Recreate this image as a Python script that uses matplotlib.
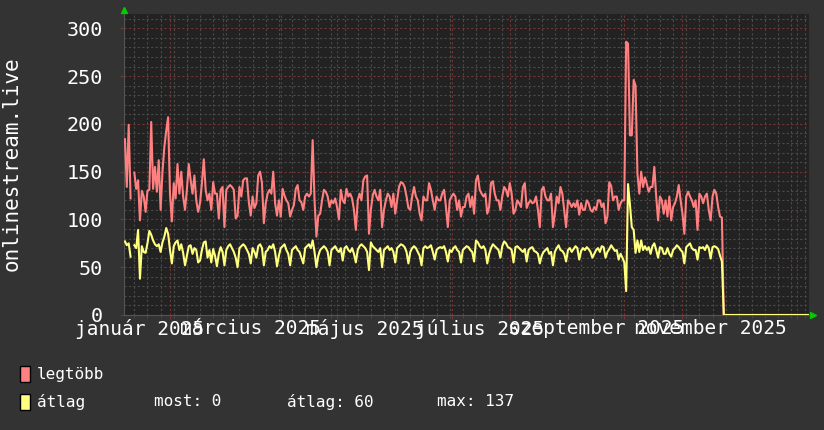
import numpy as np
import pandas as pd
import matplotlib
matplotlib.use("Agg")
import matplotlib.pyplot as plt
import matplotlib.dates as mdates
from matplotlib.ticker import MultipleLocator
from matplotlib.patches import Rectangle

nan = np.nan

# daily values, first day 2025-01-08
start_day = "2025-01-08"

# legtöbb (max) per month
max_jan = [184, 134, 199, 122, nan, 149, 132, 141, 99, 130, 124, 108, 130, 131, 202, 132, 155, 129, 162, 110, 150, 176, 193, 207]
max_feb = [127, 98, 138, 122, 158, 127, 150, 124, 110, 131, 158, 141, 127, 146, 120, 108, 117, 138, 163, 131, 120, 127, 110, 139, 127, 127, 101, 131]
max_mar = [134, 92, 131, 134, 136, 134, 131, 101, 104, 134, 124, 141, 143, 143, 118, 104, 124, 112, 117, 146, 150, 138, 96, 117, 127, 131, 127, 150, 117, 104, 120]
max_apr = [103, 132, 125, 120, 117, 103, 110, 115, 132, 136, 120, 118, 110, 124, 127, 124, 127, 183, 120, 82, 104, 106, 120, 131, 129, 124, 113, 120, 117, 122]
max_may = [113, 100, 131, 120, 117, 132, 124, 127, 122, 110, 89, 120, 127, 120, 141, 145, 146, 85, 110, 125, 131, 124, 120, 131, 92, 110, 120, 127, 124, 113, 127]
max_jun = [106, 120, 134, 139, 138, 134, 124, 112, 110, 124, 134, 124, 120, 106, 99, 124, 120, 120, 138, 131, 120, 110, 124, 120, 120, 127, 131, 113, 92, 120]
max_jul = [124, 127, 124, 110, 120, 103, 113, 113, 124, 127, 113, 124, 106, 141, 146, 131, 127, 124, 127, 106, 113, 138, 140, 127, 120, 120, 110, 124, 134, 131, 124]
max_aug = [138, 127, 106, 110, 120, 117, 113, 134, 138, 112, 117, 120, 117, 118, 124, 110, 92, 131, 134, 124, 120, 120, 127, 92, 106, 124, 117, 134, 127, 110, 92]
max_sep = [120, 117, 113, 117, 113, 120, 105, 117, 110, 110, 120, 117, 110, 108, 113, 110, 120, 120, 113, 117, 96, 103, 139, 135, 120, 124, 124, 110, 117, 120]
max_oct = [120, 286, 284, 188, 188, 246, 240, 148, 127, 150, 134, 144, 137, 129, 134, 134, 155, 124, 99, 124, 120, 106, 120, 103, 124, 99, 113, 117, 124, 136, 120]
max_nov = [106, 85, 124, 129, 124, 120, 113, 120, 89, 127, 124, 117, 124, 127, 110, 99, 124, 131, 127, 113, 103, 102]

# átlag (average) per month
avg_jan = [77, 73, 75, 61, nan, 73, 70, 89, 38, 72, 66, 65, 75, 88, 84, 78, 74, 72, 74, 66, 76, 82, 91, 85]
avg_feb = [68, 54, 72, 76, 78, 68, 74, 65, 52, 62, 72, 73, 64, 70, 68, 55, 57, 68, 76, 77, 60, 68, 55, 69, 62, 51, 64, 71]
avg_mar = [66, 52, 68, 72, 74, 70, 66, 60, 50, 70, 72, 74, 72, 68, 64, 54, 70, 66, 60, 72, 74, 70, 52, 66, 68, 72, 70, 74, 66, 51, 62]
avg_apr = [70, 72, 74, 68, 64, 52, 68, 70, 72, 68, 66, 60, 54, 70, 72, 74, 70, 78, 66, 50, 62, 68, 70, 72, 70, 66, 52, 68, 70, 72]
avg_may = [68, 66, 70, 57, 70, 72, 68, 66, 70, 64, 55, 68, 72, 74, 72, 70, 66, 47, 76, 72, 70, 68, 66, 70, 50, 68, 70, 72, 68, 70, 66]
avg_jun = [55, 70, 72, 74, 73, 71, 66, 54, 66, 70, 72, 70, 66, 62, 52, 70, 72, 70, 71, 73, 66, 58, 68, 70, 71, 70, 72, 66, 56, 68]
avg_jul = [66, 70, 72, 68, 66, 55, 68, 70, 72, 71, 68, 66, 56, 78, 76, 72, 70, 72, 68, 54, 64, 70, 74, 72, 70, 68, 60, 72, 77, 75, 71]
avg_aug = [70, 68, 55, 71, 72, 70, 68, 66, 69, 56, 68, 70, 71, 67, 66, 64, 54, 62, 66, 68, 70, 64, 66, 52, 66, 70, 73, 68, 67, 64, 56]
avg_sep = [68, 70, 66, 69, 72, 70, 58, 67, 70, 68, 71, 69, 66, 60, 64, 68, 70, 66, 72, 71, 60, 66, 69, 73, 70, 67, 68, 58, 64, 60]
avg_oct = [55, 25, 137, 116, 92, 89, 65, 78, 66, 78, 68, 72, 68, 71, 64, 72, 75, 68, 60, 71, 70, 64, 64, 70, 64, 61, 68, 70, 73, 71, 68]
avg_nov = [66, 54, 71, 73, 75, 70, 68, 68, 58, 71, 70, 71, 68, 73, 70, 59, 71, 72, 71, 69, 62, 56]

# no data after 2025-11-22 -> 0 until 2026-01-07
zero_tail = [0, 0, 0, 0, 0, 0, 0, 0,
             0, 0, 0, 0, 0, 0, 0, 0, 0, 0, 0, 0, 0, 0, 0, 0, 0, 0, 0, 0, 0, 0, 0, 0, 0, 0, 0, 0, 0, 0, 0,
             0, 0, 0, 0, 0, 0, 0]

month_labels = ["január 2025", "március 2025", "május 2025", "július 2025", "szeptember 2025", "november 2025"]
label_months = ["2025-01-01", "2025-03-01", "2025-05-01", "2025-07-01", "2025-09-01", "2025-11-01"]

max_months = [max_jan, max_feb, max_mar, max_apr, max_may, max_jun, max_jul, max_aug, max_sep, max_oct, max_nov]
avg_months = [avg_jan, avg_feb, avg_mar, avg_apr, avg_may, avg_jun, avg_jul, avg_aug, avg_sep, avg_oct, avg_nov]
month_days = [24, 28, 31, 30, 31, 30, 31, 31, 30, 31, 22]
bad = [(i, len(a), len(b)) for i, (a, b, n) in enumerate(zip(max_months, avg_months, month_days)) if len(a) != n or len(b) != n]
if bad:
    raise ValueError("month lengths wrong: %s" % bad)

legtobb = np.array(sum(max_months, []) + zero_tail, dtype=float)
atlag = np.array(sum(avg_months, []) + zero_tail, dtype=float)
dates = pd.date_range(start_day, periods=len(legtobb), freq="D")

plt.rcParams["font.family"] = ["DejaVu Sans Mono"]

W, H = 824, 430
fig = plt.figure(figsize=(W / 100, H / 100), dpi=100, facecolor="#333333")
ax = fig.add_axes([124 / W, 115 / H, 685 / W, 301 / H])
ax.set_facecolor("#222222")

ax.plot(dates, legtobb, color="#ff8080", lw=1.5, zorder=3)
ax.plot(dates, atlag, color="#ffff80", lw=1.5, zorder=4)

ax.set_xlim(pd.Timestamp("2025-01-07 12:00"), pd.Timestamp("2026-01-07 09:30"))
ax.set_ylim(0, 315)

# grid: weeks / 10s in grey, months / 50s in red
ax.xaxis.set_major_locator(mdates.MonthLocator())
ax.xaxis.set_minor_locator(mdates.WeekdayLocator(byweekday=mdates.MO))
ax.xaxis.remove_overlapping_locs = False
ax.yaxis.set_major_locator(MultipleLocator(50))
ax.yaxis.set_minor_locator(MultipleLocator(10))
ax.grid(which="minor", color="#4a4a4a", lw=0.8, ls=(0, (2, 2)), zorder=1)
ax.grid(which="major", color="#743434", lw=0.8, ls=(0, (2, 2)), zorder=1.5)
ax.set_axisbelow(True)

ax.xaxis.set_major_formatter(plt.NullFormatter())
ax.tick_params(axis="x", which="major", length=3, color="#743434")
ax.tick_params(axis="x", which="minor", length=2, color="#4a4a4a")
ax.tick_params(axis="y", which="major", length=3, color="#743434", pad=12, labelsize=14.5, labelcolor="white")
ax.tick_params(axis="y", which="minor", length=0)

# month labels centred half a month after the month start
for lab, m in zip(month_labels, label_months):
    ax.text(pd.Timestamp(m) + pd.Timedelta(days=15), -0.012, lab, transform=ax.get_xaxis_transform(),
            ha="center", va="top", color="white", fontsize=14, clip_on=False)

for s in ["top", "right"]:
    ax.spines[s].set_visible(False)
for s in ["left", "bottom"]:
    ax.spines[s].set_color("#555555")

# green arrows at the ends of the axes
ax.plot([0], [1.012], marker="^", color="#00cc00", ms=5, transform=ax.transAxes, clip_on=False)
ax.plot([1.006], [0], marker=">", color="#00cc00", ms=5, transform=ax.transAxes, clip_on=False)

fig.text(11.5 / W, 1 - 164 / H, "onlinestream.live", rotation=90, ha="center", va="center",
         color="white", fontsize=15)

# legend
fig.patches.append(Rectangle((20 / W, 1 - 382 / H), 10 / W, 16 / H, transform=fig.transFigure,
                             facecolor="#ff8080", edgecolor="black", lw=1))
fig.patches.append(Rectangle((20 / W, 1 - 410 / H), 10 / W, 16 / H, transform=fig.transFigure,
                             facecolor="#ffff80", edgecolor="black", lw=1))
leg_kw = dict(ha="left", va="center", color="white", fontsize=11.5)
fig.text(37 / W, 1 - 374 / H, "legtöbb", **leg_kw)
fig.text(37 / W, 1 - 402 / H, "átlag", **leg_kw)
fig.text(154 / W, 1 - 402 / H, "most: %d" % atlag[-1], **leg_kw)
fig.text(287 / W, 1 - 402 / H, "átlag: 60", **leg_kw)
fig.text(437 / W, 1 - 402 / H, "max: %d" % np.nanmax(atlag), **leg_kw)

fig.savefig("out.png", dpi=100, facecolor=fig.get_facecolor())
